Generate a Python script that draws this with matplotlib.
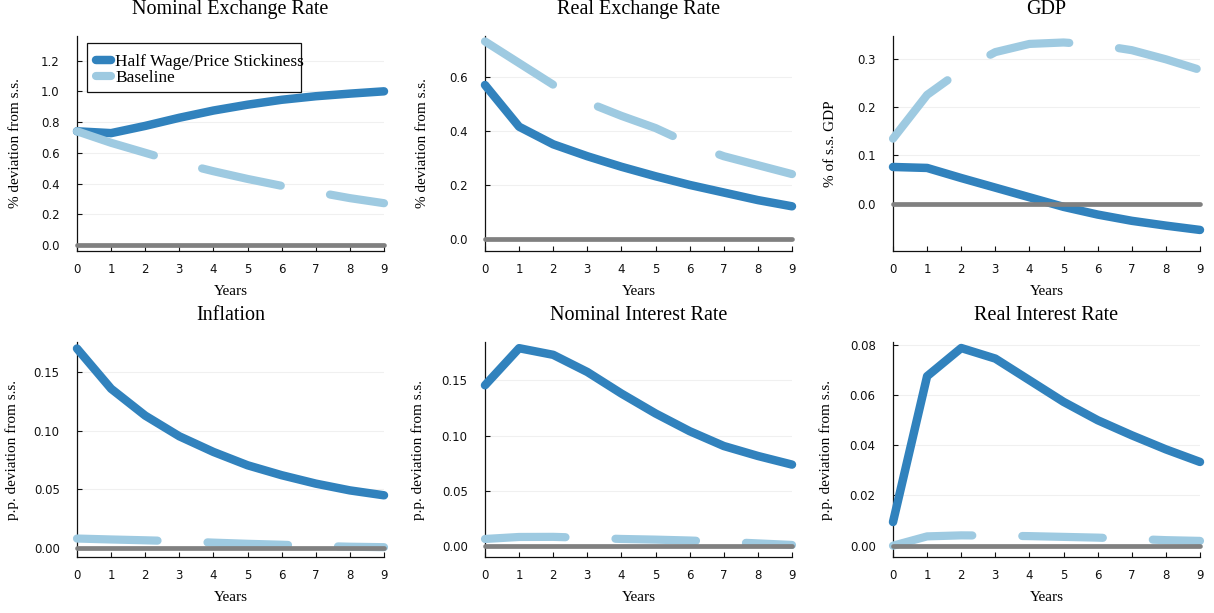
import matplotlib
matplotlib.use("Agg")
import matplotlib.pyplot as plt
from matplotlib.patches import Rectangle

# Data ###############################################################################

years = [0, 1, 2, 3, 4, 5, 6, 7, 8, 9]
steady_state = [0.0] * 10

titulos = ["Nominal Exchange Rate", "Real Exchange Rate", "GDP",
           "Inflation", "Nominal Interest Rate", "Real Interest Rate"]
ylabels = ["% deviation from s.s.", "% deviation from s.s.", "% of s.s. GDP",
           "p.p. deviation from s.s.", "p.p. deviation from s.s.", "p.p. deviation from s.s."]

half_ner = [0.74, 0.728, 0.775, 0.828, 0.875, 0.913, 0.945, 0.968, 0.985, 1.0]
base_ner = [0.74, 0.665, 0.60, 0.535, 0.48, 0.43, 0.385, 0.345, 0.305, 0.272]

half_rer = [0.569, 0.415, 0.35, 0.306, 0.267, 0.232, 0.20, 0.172, 0.144, 0.121]
base_rer = [0.73, 0.65, 0.57, 0.505, 0.455, 0.41, 0.352, 0.306, 0.273, 0.24]

half_gdp = [0.076, 0.074, 0.053, 0.033, 0.013, -0.007, -0.023, -0.036, -0.046, -0.055]
base_gdp = [0.135, 0.226, 0.277, 0.315, 0.332, 0.335, 0.330, 0.319, 0.300, 0.278]

half_inf = [0.1704, 0.136, 0.113, 0.0953, 0.0819, 0.0705, 0.062, 0.0548, 0.049, 0.0448]
base_inf = [0.0078, 0.007, 0.0063, 0.0055, 0.0043, 0.0033, 0.0025, 0.0015, 0.0008, 0.0004]

half_nir = [0.1455, 0.179, 0.173, 0.1575, 0.138, 0.12, 0.104, 0.0906, 0.0816, 0.0738]
base_nir = [0.0066, 0.0084, 0.0085, 0.0076, 0.0066, 0.006, 0.0052, 0.004, 0.0026, 0.0012]

half_rir = [0.0094, 0.0674, 0.0786, 0.0744, 0.0658, 0.0572, 0.0499, 0.0439, 0.0383, 0.0333]
base_rir = [0.0, 0.0037, 0.0041, 0.004, 0.0038, 0.0035, 0.0032, 0.0027, 0.0022, 0.0019]

half_series = [half_ner, half_rer, half_gdp, half_inf, half_nir, half_rir]
base_series = [base_ner, base_rer, base_gdp, base_inf, base_nir, base_rir]

yticks = [[0.0, 0.2, 0.4, 0.6, 0.8, 1.0, 1.2],
          [0.0, 0.2, 0.4, 0.6],
          [0.0, 0.1, 0.2, 0.3],
          [0.00, 0.05, 0.10, 0.15],
          [0.00, 0.05, 0.10, 0.15],
          [0.00, 0.02, 0.04, 0.06, 0.08]]
ylims = [(-0.039, 1.36), (-0.044, 0.75), (-0.0988, 0.3485),
         (-0.008, 0.176), (-0.0097, 0.1846), (-0.0045, 0.081)]
formatos = ["%.1f", "%.1f", "%.1f", "%.2f", "%.2f", "%.2f"]

# Estilo ###############################################################################

plt.rcParams["lines.scale_dashes"] = False
escuro = "#3182bd"
claro = "#9ecae1"
cinza = "#808080"
serif = "Liberation Serif"

W, H = 1214, 613
fig = plt.figure(figsize=(W / 100, H / 100), dpi=100)

cols_x = [77, 485, 893]
rows_top = [36, 342]
ylabel_off = [61, 62, 63, 65, 66.7, 66.7]

for i in range(6):
    x0 = cols_x[i % 3]
    top = rows_top[i // 3]
    w, h = 307, 215
    ax = fig.add_axes([x0 / W, 1 - (top + h) / H, w / W, h / H])

    ax.plot(years, half_series[i], color=escuro, lw=6.1, solid_capstyle="round",
            solid_joinstyle="round", clip_on=False, zorder=3, label="Half Wage/Price Stickiness")
    ax.plot(years, base_series[i], color=claro, lw=5.9, dashes=(58, 36),
            dash_capstyle="round", dash_joinstyle="round", solid_capstyle="round",
            clip_on=False, zorder=4, label="Baseline")
    ax.plot(years, steady_state, color=cinza, lw=3.4, solid_capstyle="round",
            clip_on=False, zorder=5)

    ax.set_xlim(0, 9)
    ax.set_ylim(*ylims[i])
    ax.set_xticks(years)
    ax.set_yticks(yticks[i])
    ax.set_yticklabels([formatos[i] % v for v in yticks[i]])

    for s in ["top", "right"]:
        ax.spines[s].set_visible(False)
    for s in ["left", "bottom"]:
        ax.spines[s].set_linewidth(0.9)
        ax.spines[s].set_color("#111111")

    ax.tick_params(axis="x", direction="in", length=3.5, width=0.8, pad=8.5,
                   labelsize=8.5, colors="#111111")
    ax.tick_params(axis="y", direction="in", length=3.5, width=0.8, pad=12.5,
                   labelsize=8.5, colors="#111111")
    ax.yaxis.grid(True, color="#f0f0f0", lw=0.8)
    ax.set_axisbelow(True)

    ax.set_title(titulos[i], fontfamily=serif, fontsize=14.5, pad=16)
    ax.set_xlabel("Years", fontfamily=serif, fontsize=11)
    ax.xaxis.set_label_coords(0.5, -34 / h)
    ax.set_ylabel(ylabels[i], fontfamily=serif, fontsize=11)
    ax.yaxis.set_label_coords(-ylabel_off[i] / w, 0.5)
    ax.yaxis.label.set_verticalalignment("center")

    if i == 0:
        # moldura da legenda (o texto passa um pouco da borda, como no original)
        moldura = Rectangle((10 / w, 1 - 56 / h), 214 / w, 49 / h, transform=ax.transAxes,
                            facecolor="white", edgecolor="#111111", lw=0.9,
                            zorder=6, clip_on=False)
        ax.add_patch(moldura)
        leg = ax.legend(loc="upper left", bbox_to_anchor=(10 / w, 1 - 9 / h),
                        prop={"family": serif, "size": 12.4}, frameon=False,
                        handlelength=0.9, handletextpad=0.25,
                        borderpad=0.5, labelspacing=0.0, borderaxespad=0)
        leg.set_zorder(7)

fig.savefig("out.png", dpi=100)
